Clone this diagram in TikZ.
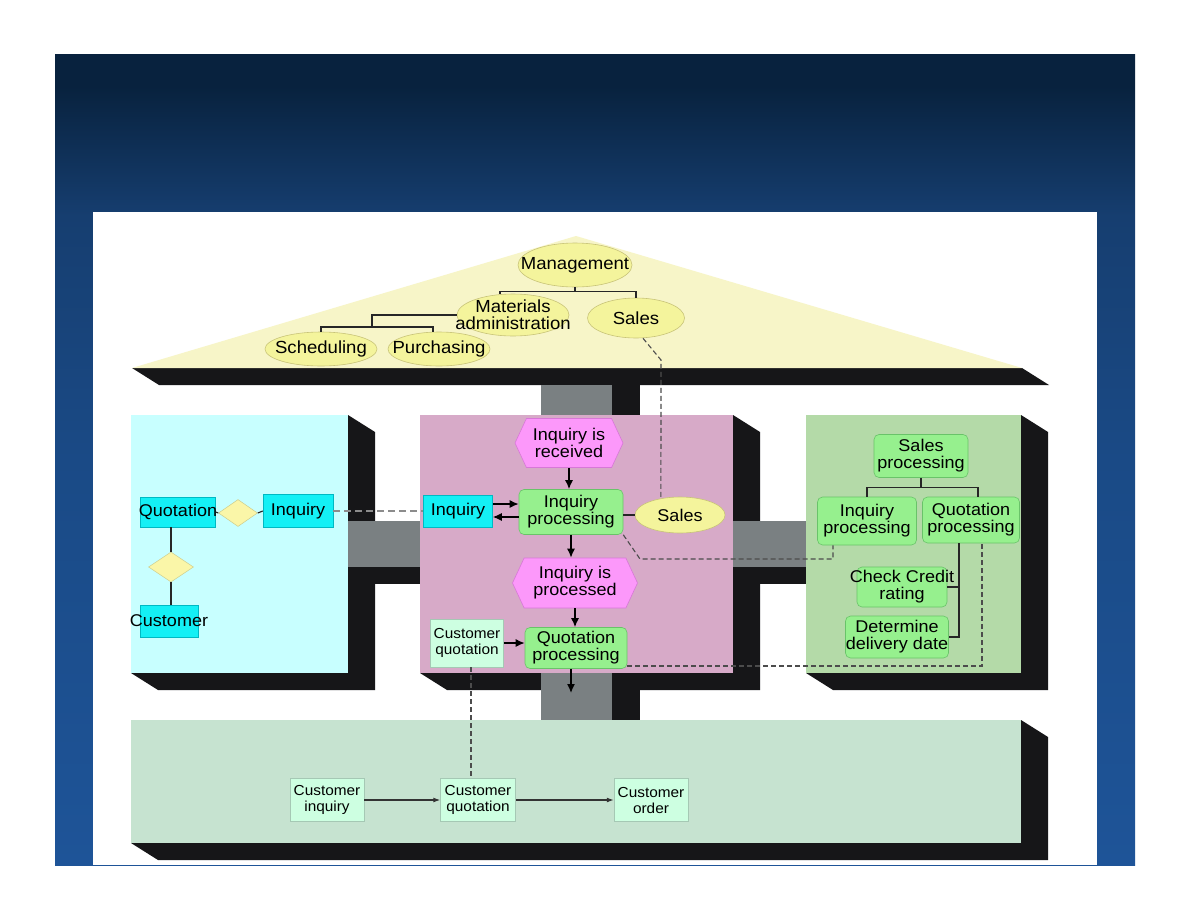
\documentclass[tikz,border=0pt]{standalone}
\usepackage{fontspec}
\setmainfont{Liberation Sans}[FakeStretch=1.06]
\usetikzlibrary{arrows.meta, shapes.geometric, shapes.symbols}

\definecolor{bgtop}{RGB}{8,34,62}
\definecolor{bgtoptwo}{RGB}{22,62,112}
\definecolor{bgmid}{RGB}{26,74,134}
\definecolor{bgbot}{RGB}{30,84,152}
\definecolor{roofyellow}{RGB}{247,245,200}
\definecolor{shadowblack}{RGB}{22,22,24}
\definecolor{linkgray}{RGB}{122,128,130}
\definecolor{leftface}{RGB}{200,255,255}
\definecolor{midface}{RGB}{215,170,200}
\definecolor{rightface}{RGB}{180,218,168}
\definecolor{bottomface}{RGB}{198,227,208}
\definecolor{ellyellow}{RGB}{244,244,156}
\definecolor{ellline}{RGB}{200,196,120}
\definecolor{funcgreen}{RGB}{150,240,142}
\definecolor{funcline}{RGB}{105,195,105}
\definecolor{evtpink}{RGB}{252,152,250}
\definecolor{evtline}{RGB}{215,120,215}
\definecolor{objcyan}{RGB}{20,240,245}
\definecolor{objline}{RGB}{0,185,195}
\definecolor{infomint}{RGB}{205,255,225}
\definecolor{infoline}{RGB}{165,200,180}
\definecolor{relyellow}{RGB}{250,246,168}
\definecolor{relline}{RGB}{205,205,140}

% the path is mapped onto 25bp..75bp of the shading
\pgfdeclareverticalshading{slidebg}{100bp}{color(0bp)=(bgbot); color(25bp)=(bgbot); color(50bp)=(bgmid); color(65bp)=(bgtoptwo); color(73bp)=(bgtop); color(100bp)=(bgtop)}

\newcommand{\mainfs}{\fontsize{17}{17}\selectfont}
\newcommand{\roofs}{\fontsize{17.5}{17}\selectfont}
\newcommand{\smallfs}{\fontsize{14.5}{16}\selectfont}

\tikzset{
  sz/.style 2 args={minimum width=#1, minimum height=#2},
  lbl/.style={label={[align=center, font=\mainfs]center:#1}},
  lblr/.style={label={[align=center, font=\roofs]center:#1}},
  lbls/.style={label={[align=center, font=\smallfs]center:#1}},
  orgunit/.style={ellipse, draw=ellline, line width=0.6pt, fill=ellyellow, inner sep=0pt},
  func/.style={rectangle, rounded corners=5pt, draw=funcline, line width=0.6pt, fill=funcgreen, inner sep=0pt},
  evt/.style={signal, signal to=west and east, signal pointer angle=130, draw=evtline, line width=0.6pt, fill=evtpink, inner sep=0pt},
  objc/.style={rectangle, draw=objline, line width=0.5pt, fill=objcyan, inner sep=0pt},
  info/.style={rectangle, draw=infoline, line width=0.5pt, fill=infomint, inner sep=0pt},
  rel/.style={diamond, draw=relline, line width=0.5pt, fill=relyellow, inner sep=0pt},
  tree/.style={line width=1.1pt, draw=black!85},
  flow/.style={line width=1.4pt, -{Latex[length=9pt, width=8pt]}},
  flowthin/.style={line width=1.1pt, draw=black!80, -{Latex[length=7pt, width=5pt]}},
  link/.style={line width=1.1pt, draw=black!70, dash pattern=on 5pt off 3pt},
  linklight/.style={line width=1.1pt, draw=black!45, dash pattern=on 7pt off 4pt}
}

\begin{document}
\begin{tikzpicture}[x=1pt, y=-1pt]
  \useasboundingbox (0,0) rectangle (1188,918);
  \fill[white] (0,0) rectangle (1188,918);
  \shade[shading=slidebg] (55,54) rectangle (1135,865);
  \fill[white] (93,212) rectangle (1097,865);

  % roof
  \fill[shadowblack] (132,368) -- (1022,368) -- (1049,385) -- (159,385) -- cycle;
  \fill[roofyellow] (132,368) -- (576,236) -- (1022,368) -- cycle;

  % extruded boxes
  \foreach \xa/\ya/\xb/\yb/\col in {131/415/348/673/leftface, 420/415/733/673/midface,
      806/415/1021/673/rightface, 131/720/1021/843/bottomface}{
    \fill[shadowblack] (\xa,\ya) -- (\xb,\ya) -- (\xb+27,\ya+17) -- (\xb+27,\yb+17)
      -- (\xa+27,\yb+17) -- (\xa,\yb) -- cycle;
    \fill[\col] (\xa,\ya) rectangle (\xb,\yb);
  }

  % connecting blocks
  \fill[shadowblack] (612,385) rectangle (640,415);
  \fill[linkgray] (541,385) rectangle (612,415);
  \fill[shadowblack] (348,567) rectangle (420,584);
  \fill[linkgray] (348,521) rectangle (420,567);
  \fill[shadowblack] (733,567) rectangle (806,584);
  \fill[linkgray] (733,521) rectangle (806,567);
  \fill[shadowblack] (612,673) rectangle (640,720);
  \fill[linkgray] (541,673) rectangle (612,720);

  % organisation
  \node[orgunit, sz={114}{44}, lblr={Management}] (mgmt) at (575,265) {};
  \node[orgunit, sz={112}{42}, lblr={Materials\\administration}] (matadm) at (513,315) {};
  \node[orgunit, sz={97}{40}, lblr={Sales}] (rsales) at (636,318) {};
  \node[orgunit, sz={112}{34}, lblr={Scheduling}] (sched) at (321,349) {};
  \node[orgunit, sz={102}{34}, lblr={Purchasing}] (purch) at (439,349) {};
  \draw[tree] (mgmt.south) -- ++(0,4) -| ([xshift=-13]matadm.north);
  \draw[tree] (mgmt.south) ++(0,4) -| (rsales.north);
  \coordinate (sbar) at (372,327);
  \draw[tree] (matadm.west) -| (sbar) -| (sched.north);
  \draw[tree] (sbar) -| ([xshift=-6]purch.north);

  % data
  \node[objc, sz={75}{30}, lbl={Quotation}] (lquot) at (178,512) {};
  \node[rel, sz={39}{27}] (rel1) at (238,513) {};
  \node[objc, sz={70}{33}, lbl={Inquiry}] (linq) at (298,511) {};
  \node[rel, sz={45}{30}] (rel2) at (171,567) {};
  \node[objc, sz={58}{32}, lbl={Customer}] (lcust) at (169,621) {};
  \draw[tree] (lquot.east) -- (rel1.west);
  \draw[tree] (rel1.east) -- (linq.west);
  \draw[tree] (rel2.north |- lquot.south) -- (rel2.north);
  \draw[tree] (rel2.south) -- (rel2.south |- lcust.north);

  % control
  \node[evt, sz={108}{49}, lbl={Inquiry is\\received}] (ev1) at (569,443) {};
  \node[func, sz={104}{45}, lbl={Inquiry\\processing}] (ip) at (571,512) {};
  \node[objc, sz={69}{32}, lbl={Inquiry}] (cinq) at (458,511) {};
  \node[orgunit, sz={90}{36}, lbl={Sales}] (csales) at (680,515) {};
  \node[evt, sz={125}{50}, lbl={Inquiry is\\processed}] (ev2) at (575,583) {};
  \node[func, sz={102}{41}, lbl={Quotation\\processing}] (qp) at (576,648) {};
  \node[info, sz={73}{48}, lbls={Customer\\quotation}] (cq) at (467,643) {};
  \coordinate (qpout) at (571,693);
  \draw[flow] (ev1.south) -- (ev1.south |- ip.north);
  \draw[flow] ([yshift=7]cinq.east) -- ([yshift=7]cinq.east -| ip.west);
  \draw[flow] ([yshift=-5]ip.west) -- ([yshift=-5]ip.west -| cinq.east);
  \draw[tree] (csales.west -| ip.east) -- (csales.west);
  \draw[flow] (ip.south) -- (ip.south |- ev2.north);
  \draw[flow] (ev2.south) -- (ev2.south |- qp.north);
  \draw[flow] (cq.east) -- (cq.east -| qp.west);
  \draw[flow] ([xshift=-5]qp.south) -- (qpout);

  % functions
  \node[func, sz={94}{43}, lbl={Sales\\processing}] (rsp) at (921,456) {};
  \node[func, sz={99}{48}, lbl={Inquiry\\processing}] (rip) at (867,521) {};
  \node[func, sz={97}{46}, lbl={Quotation\\processing}] (rqp) at (971,520) {};
  \node[func, sz={90}{40}, lbl={Check Credit\\rating}] (rcc) at (902,587) {};
  \node[func, sz={103}{42}, lbl={Determine\\delivery date}] (rdd) at (897,637) {};
  \coordinate (qtrunk) at ([xshift=-12]rqp.south);
  \draw[tree] (rsp.south) -- ++(0,10) -| (rip.north);
  \draw[tree] (rsp.south) ++(0,10) -| ([xshift=7]rqp.north);
  \draw[tree] (qtrunk) |- (rdd.east);
  \draw[tree] (rcc.east) -- (rcc.east -| qtrunk);

  % output
  \node[info, sz={74}{43}, lbls={Customer\\inquiry}] (bci) at (327,800) {};
  \node[info, sz={75}{43}, lbls={Customer\\quotation}] (bcq) at (478,800) {};
  \node[info, sz={74}{43}, lbls={Customer\\order}] (bco) at (651,800) {};
  \draw[flowthin] (bci.east) -- (bcq.west);
  \draw[flowthin] (bcq.east) -- (bco.west);

  % assignments
  \draw[linklight] (linq.east) -- (cinq.west);
  \draw[link] ([xshift=7]rsales.south) -- (661,360) -- (csales.139);
  \draw[link] (ip.south east) -- (640,559) -| ([xshift=-34]rip.south);
  \draw[link] ([yshift=-18]qp.east) -| ([xshift=11]rqp.south);
  \draw[link] ([xshift=4]cq.south) -- ([xshift=4]cq.south |- bcq.north);
\end{tikzpicture}
\end{document}
